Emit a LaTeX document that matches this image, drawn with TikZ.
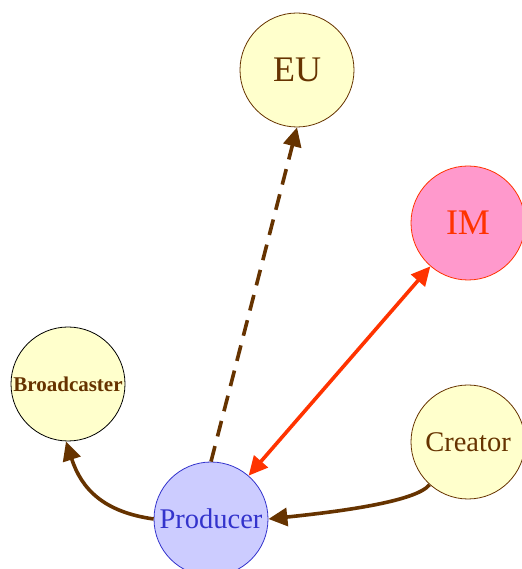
\documentclass[tikz,border=0pt]{standalone}
\usepackage{fontspec}
\setmainfont{Liberation Serif}
\usetikzlibrary{arrows.meta}
\definecolor{brownline}{HTML}{663300}
\definecolor{paleyellow}{HTML}{FFFFCC}
\definecolor{lilac}{HTML}{CCCCFF}
\definecolor{bluetext}{HTML}{3333CC}
\definecolor{pinkfill}{HTML}{FF99CC}
\definecolor{redline}{HTML}{FF3300}
\tikzset{
  actor/.style={circle, draw=brownline, fill=paleyellow, text=brownline,
    minimum size=114pt, inner sep=0pt, line width=0.8pt},
  bigfont/.style={font=\fontsize{36}{40}\selectfont},
  midfont/.style={font=\fontsize{28.5}{32}\selectfont},
  head/.tip={Triangle[length=19pt,width=18pt]},
  flow/.style={line width=3.6pt, brownline, -head},
}
\begin{document}
\begin{tikzpicture}[x=1pt,y=1pt]
  \useasboundingbox (0,0) rectangle (521,569);
  % nodes
  \node[actor, bigfont] (eu) at (297,499) {EU};
  \node[actor, bigfont, draw=redline, fill=pinkfill, text=redline] (im) at (468,346) {IM};
  \node[actor, font=\fontsize{21}{24}\selectfont\bfseries, draw=black] (br) at (68,185) {Broadcaster};
  \node[actor, midfont] (cr) at (468,127) {Creator};
  \node[actor, midfont, draw=bluetext, fill=lilac, text=bluetext] (pr) at (211,50) {Producer};
  % connectors
  \draw[flow, dash pattern=on 16pt off 10pt] (pr.north) -- (eu.south);
  \draw[line width=3.6pt, redline, head-head] (pr) -- (im);
  \draw[flow] (pr.west) to[out=172, in=-72, looseness=1.1] (br.268);
  \draw[flow] (cr.228) to[out=232, in=6, out looseness=0.35, in looseness=1.0] (pr.east);
\end{tikzpicture}
\end{document}
